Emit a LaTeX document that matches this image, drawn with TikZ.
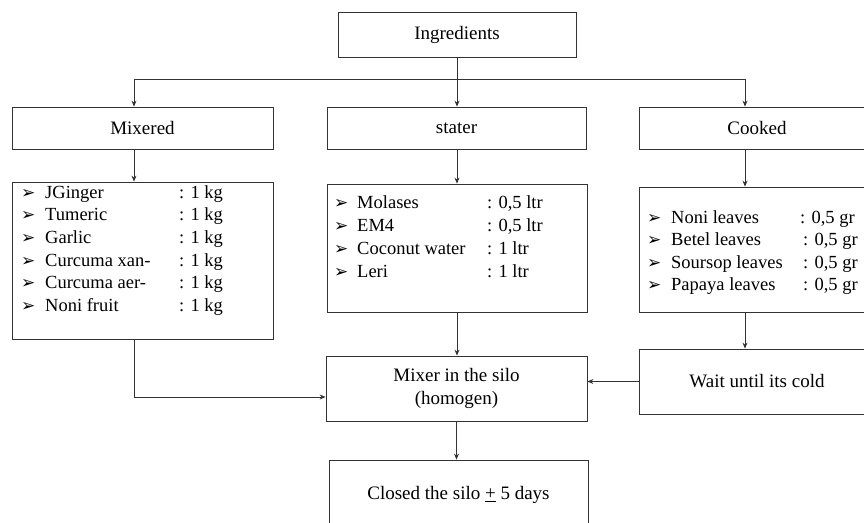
\documentclass[tikz,border=0pt]{standalone}
\usepackage{fontspec}
\setmainfont{Liberation Serif}
\newfontfamily\dingfont{DejaVu Sans}
\usetikzlibrary{arrows.meta}
\begin{document}
\begin{tikzpicture}[x=1pt,y=-1pt,
  box/.style={draw=black!80, line width=0.8pt, rectangle, inner sep=0pt,
    font=\fontsize{19}{23}\selectfont, align=center},
  conn/.style={draw=black!80, line width=0.8pt},
  arr/.style={conn, -{Stealth[length=6pt,width=5pt]}},
  item/.style={anchor=base west, inner sep=0pt, font=\fontsize{18.5}{22}\selectfont},
  bul/.style={anchor=base west, inner sep=0pt, font=\dingfont\fontsize{17}{20}\selectfont}]
\useasboundingbox (0,0) rectangle (864,522);

% boxes
\node[box, minimum width=238pt, minimum height=45pt] (ing) at (457,34.5) {Ingredients};
\node[box, minimum width=261pt, minimum height=42pt] (mixd) at (142.5,128) {Mixered};
\node[box, minimum width=259pt, minimum height=42pt] (stat) at (456.5,128) {stater};
\node[box, minimum width=236pt, minimum height=42pt] (cook) at (757,128) {Cooked};
\node[box, minimum width=261pt, minimum height=157pt] (mlist) at (142.5,260.5) {};
\node[box, minimum width=260pt, minimum height=128pt] (slist) at (457,248) {};
\node[box, minimum width=236pt, minimum height=125pt] (clist) at (757,249.5) {};
\node[box, minimum width=261pt, minimum height=65pt] (mixer) at (456.5,388.5) {Mixer in the silo\\(homogen)};
\node[box, minimum width=236pt, minimum height=65pt] (wait) at (757,381.5) {Wait until its cold};
\node[box, minimum width=259pt, minimum height=70pt] (closed) at (458.5,495) {Closed the silo \underline{+} 5 days};

% list items
\foreach \n/\q/\y [count=\i] in {JGinger/{1 kg}/198, Tumeric/{1 kg}/220.7, Garlic/{1 kg}/243.4,
    Curcuma xan-/{1 kg}/266, Curcuma aer-/{1 kg}/288.8, Noni fruit/{1 kg}/311.5} {
  \node[bul] (mb\i) at (21,\y) {➢};
  \node[item] (mn\i) at (45,\y) {\n};
  \node[item] (mq\i) at (179,\y) {: \q};
}
\foreach \n/\q/\y [count=\i] in {Molases/{0,5 ltr}/208, EM4/{0,5 ltr}/231, Coconut water/{1 ltr}/254, Leri/{1 ltr}/277} {
  \node[bul] (sb\i) at (334,\y) {➢};
  \node[item] (sn\i) at (357,\y) {\n};
  \node[item] (sq\i) at (487,\y) {: \q};
}
\foreach \n/\q/\y/\c [count=\i] in {Noni leaves/{0,5 gr}/223/800, Betel leaves/{0,5 gr}/245.5/803,
    Soursop leaves/{0,5 gr}/268/803, Papaya leaves/{0,5 gr}/290.5/803} {
  \node[bul] (cb\i) at (647,\y) {➢};
  \node[item] (cn\i) at (671,\y) {\n};
  \node[item] (cq\i) at (\c,\y) {: \q};
}

% helper coordinates
\coordinate (j) at (457,79);
\coordinate (xm) at (134,0);
\coordinate (xc) at (745,0);
\coordinate (ym) at (0,397);

% connectors
\draw[conn] (ing.south) -- (j);
\draw[arr] (j) -| (xm |- mixd.north);
\draw[arr] (j) -| (xc |- cook.north);
\draw[arr] (j) -- (j |- stat.north);
\draw[arr] (xm |- mixd.south) -- (xm |- mlist.north);
\draw[arr] (j |- stat.south) -- (j |- slist.north);
\draw[arr] (xc |- cook.south) -- (xc |- clist.north);
\draw[arr] (xm |- mlist.south) |- (mixer.west |- ym);
\draw[arr] (j |- slist.south) -- (j |- mixer.north);
\draw[arr] (xc |- clist.south) -- (xc |- wait.north);
\draw[arr] (wait.west) -- (mixer.east |- wait.west);
\draw[arr] (mixer.south) -- (mixer.south |- closed.north);
\end{tikzpicture}
\end{document}
